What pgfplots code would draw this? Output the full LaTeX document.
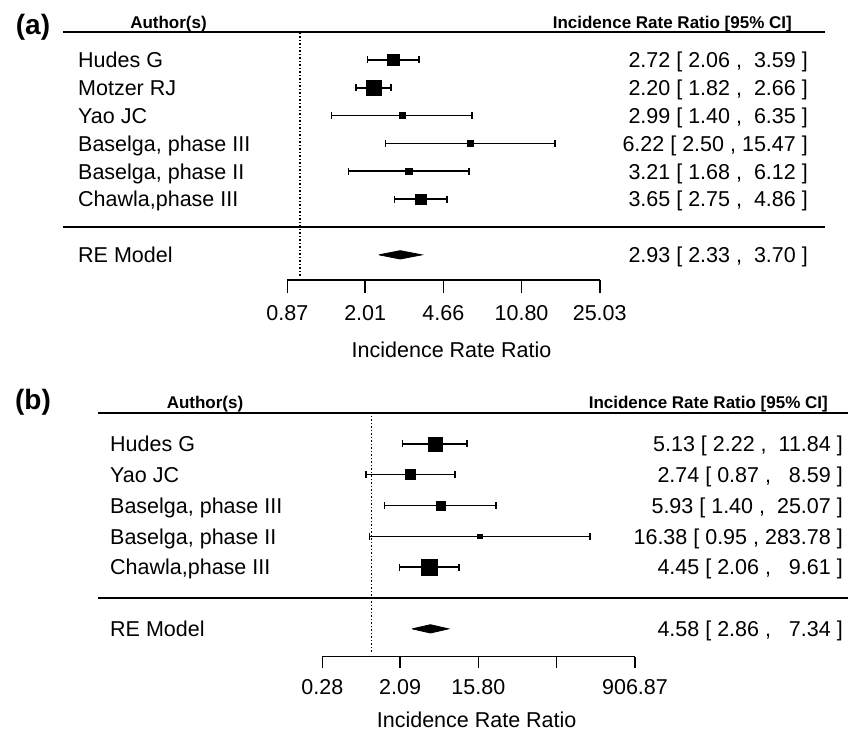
\documentclass[border=0pt]{standalone}
\usepackage{pgfplots}
\pgfplotsset{compat=1.18}
\usepackage{fontspec}
\setmainfont{Liberation Sans}
\newcommand{\rt}{\fontsize{21.5bp}{25bp}\selectfont}
\newcommand{\hd}{\fontsize{17bp}{20bp}\selectfont\bfseries}
\newcommand{\pl}{\fontsize{28bp}{32bp}\selectfont\bfseries}
\pgfplotsset{
  myfp/.style={
    scale only axis, clip=false, anchor=south west,
    axis x line*=bottom, axis y line=none,
    minor xtick={}, tick align=outside,
    x axis line style={line width=1.6bp, black},
    tick style={line width=1.6bp, black},
    xticklabel style={font=\rt, inner sep=0pt, anchor=north},
    xlabel={Incidence Rate Ratio},
    xlabel style={font=\rt, at={(axis description cs:0.5,0)}, anchor=center, inner sep=0pt},
  },
  myci/.style={black, line width=1.6bp, mark=|, mark size=3.4bp, mark options={solid, line width=1.6bp}},
  myest/.style={black, only marks, mark=square*},
  myrefl/.style={black, line width=1.6bp, dash pattern=on 1.6bp off 1.9bp},
}
\begin{document}
\begin{tikzpicture}
% ---------------- panel (a) ----------------
\begin{axis}[xmode=log, myfp, at={(287.3bp,-279.9bp)}, width=312.4bp, height=247.9bp,
  xmin=0.87, xmax=25.03, ymin=-1.9, ymax=7,
  xtick={0.87,2.01,4.66,10.80,25.03}, xticklabels={0.87,2.01,4.66,10.80,25.03},
  major tick length=13bp, xticklabel style={yshift=-12bp},
  xlabel style={xshift=8bp, yshift=-70bp}]
\addplot[myrefl] coordinates {(1,-1.75) (1,7)};
% CIs
\addplot[myci] coordinates {(2.06,6) (3.59,6)};
\addplot[myci] coordinates {(1.82,5) (2.66,5)};
\addplot[myci] coordinates {(1.40,4) (6.35,4)};
\addplot[myci] coordinates {(2.50,3) (15.47,3)};
\addplot[myci] coordinates {(1.68,2) (6.12,2)};
\addplot[myci] coordinates {(2.75,1) (4.86,1)};
% estimates
\addplot[myest, mark size=5.7bp] coordinates {(2.72,6)};
\addplot[myest, mark size=7.8bp] coordinates {(2.20,5)};
\addplot[myest, mark size=3.0bp] coordinates {(2.99,4)};
\addplot[myest, mark size=2.9bp] coordinates {(6.22,3)};
\addplot[myest, mark size=3.3bp] coordinates {(3.21,2)};
\addplot[myest, mark size=5.2bp] coordinates {(3.65,1)};
% RE model
\addplot[fill=black, draw=black, line width=0.8bp] coordinates {(2.33,-1) (2.93,-0.85) (3.70,-1) (2.93,-1.15) (2.33,-1)};
\end{axis}
\draw[line width=2bp] (63bp,-32bp) -- (825bp,-32bp);
\draw[line width=2bp] (63bp,-227bp) -- (825bp,-227bp);
\node[font=\pl, anchor=center, inner sep=0pt] at (33bp,-27bp) {(a)};
\node[font=\hd, anchor=base, inner sep=0pt] at (168.5bp,-28.1bp) {Author(s)};
\node[font=\hd, anchor=base east, inner sep=0pt] at (792bp,-28.1bp) {Incidence Rate Ratio [95\% CI]};
\begin{scope}[every node/.style={font=\rt, inner sep=0pt}]
\node[anchor=base west] at (78bp,-67.6bp) {Hudes G};
\node[anchor=base west] at (78bp,-95.4bp) {Motzer RJ};
\node[anchor=base west] at (78bp,-123.3bp) {Yao JC};
\node[anchor=base west] at (78bp,-151.1bp) {Baselga, phase III};
\node[anchor=base west] at (78bp,-179.0bp) {Baselga, phase II};
\node[anchor=base west] at (78bp,-206.8bp) {Chawla,phase III};
\node[anchor=base west] at (78bp,-262.6bp) {RE Model};
\node[anchor=base east] at (808bp,-67.6bp) {2.72 [ 2.06 ,~~3.59 ]};
\node[anchor=base east] at (808bp,-95.4bp) {2.20 [ 1.82 ,~~2.66 ]};
\node[anchor=base east] at (808bp,-123.3bp) {2.99 [ 1.40 ,~~6.35 ]};
\node[anchor=base east] at (808bp,-151.1bp) {6.22 [ 2.50 , 15.47 ]};
\node[anchor=base east] at (808bp,-179.0bp) {3.21 [ 1.68 ,~~6.12 ]};
\node[anchor=base east] at (808bp,-206.8bp) {3.65 [ 2.75 ,~~4.86 ]};
\node[anchor=base east] at (808bp,-262.6bp) {2.93 [ 2.33 ,~~3.70 ]};
\end{scope}
% ---------------- panel (b) ----------------
\begin{axis}[xmode=log, myfp, at={(322.3bp,-656.6bp)}, width=312.7bp, height=243.6bp,
  xmin=0.28, xmax=906.87, ymin=-1.9, ymax=6,
  xtick={0.28,2.09,15.80,119.7,906.87}, xticklabels={0.28,2.09,15.80,,906.87},
  major tick length=11bp, xticklabel style={yshift=-11.4bp},
  xlabel style={xshift=-2bp, yshift=-63.4bp}]
\addplot[myrefl] coordinates {(1,-1.75) (1,6)};
\addplot[myci] coordinates {(2.22,5) (11.84,5)};
\addplot[myci] coordinates {(0.87,4) (8.59,4)};
\addplot[myci] coordinates {(1.40,3) (25.07,3)};
\addplot[myci] coordinates {(0.95,2) (283.78,2)};
\addplot[myci] coordinates {(2.06,1) (9.61,1)};
\addplot[myest, mark size=7.0bp] coordinates {(5.13,5)};
\addplot[myest, mark size=5.0bp] coordinates {(2.74,4)};
\addplot[myest, mark size=4.5bp] coordinates {(5.93,3)};
\addplot[myest, mark size=2.2bp] coordinates {(16.38,2)};
\addplot[myest, mark size=8.0bp] coordinates {(4.45,1)};
\addplot[fill=black, draw=black, line width=0.8bp] coordinates {(2.86,-1) (4.58,-0.865) (7.34,-1) (4.58,-1.135) (2.86,-1)};
\end{axis}
\draw[line width=2bp] (98bp,-413bp) -- (848bp,-413bp);
\draw[line width=2bp] (98bp,-598bp) -- (848bp,-598bp);
\node[font=\pl, anchor=center, inner sep=0pt] at (33bp,-402bp) {(b)};
\node[font=\hd, anchor=base, inner sep=0pt] at (205bp,-408.1bp) {Author(s)};
\node[font=\hd, anchor=base east, inner sep=0pt] at (828bp,-408.1bp) {Incidence Rate Ratio [95\% CI]};
\begin{scope}[every node/.style={font=\rt, inner sep=0pt}]
\node[anchor=base west] at (110bp,-451.5bp) {Hudes G};
\node[anchor=base west] at (110bp,-482.4bp) {Yao JC};
\node[anchor=base west] at (110bp,-513.2bp) {Baselga, phase III};
\node[anchor=base west] at (110bp,-544.0bp) {Baselga, phase II};
\node[anchor=base west] at (110bp,-574.9bp) {Chawla,phase III};
\node[anchor=base west] at (110bp,-636.5bp) {RE Model};
\node[anchor=base east] at (843bp,-451.5bp) {5.13 [ 2.22 ,~~11.84 ]};
\node[anchor=base east] at (843bp,-482.4bp) {2.74 [ 0.87 ,~~~8.59 ]};
\node[anchor=base east] at (843bp,-513.2bp) {5.93 [ 1.40 ,~~25.07 ]};
\node[anchor=base east] at (843bp,-544.0bp) {16.38 [ 0.95 , 283.78 ]};
\node[anchor=base east] at (843bp,-574.9bp) {4.45 [ 2.06 ,~~~9.61 ]};
\node[anchor=base east] at (843bp,-636.5bp) {4.58 [ 2.86 ,~~~7.34 ]};
\end{scope}
\pgfresetboundingbox
\useasboundingbox (0bp,0bp) rectangle (848bp,-735bp);
\end{tikzpicture}
\end{document}
